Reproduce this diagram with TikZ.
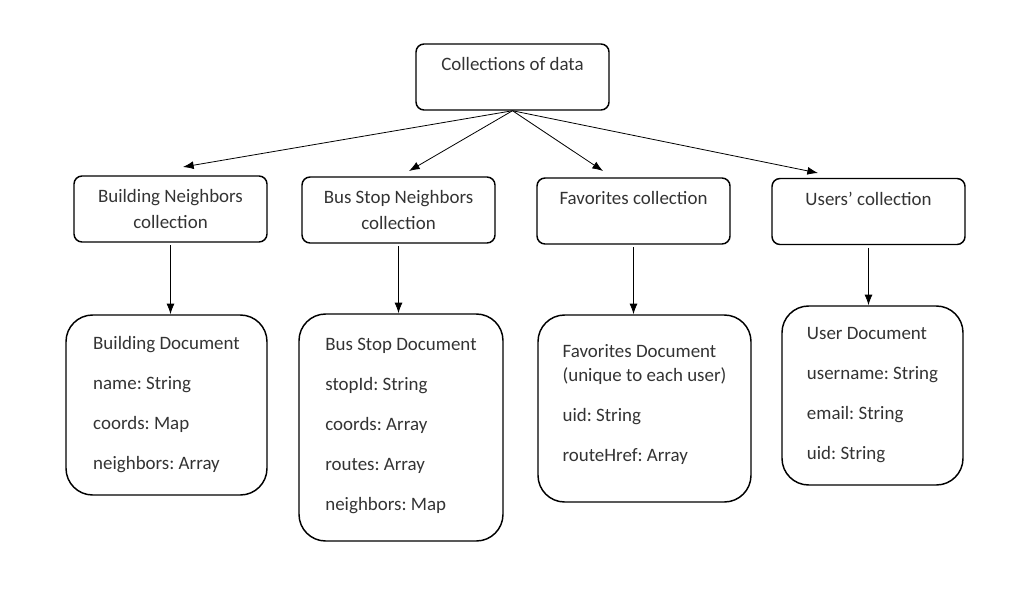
\documentclass[tikz,border=0pt]{standalone}
\usepackage{fontspec}
\setmainfont{Carlito}
\usetikzlibrary{arrows.meta}
\frenchspacing

\begin{document}
\begin{tikzpicture}[x=0.75pt,y=-0.75pt,
  every node/.style={font=\fontsize{14.2}{18}\selectfont, text=black!80},
  coll/.style={draw, line width=1.1pt, rounded corners=6pt, minimum width=144.75pt, minimum height=49.5pt, align=center, inner sep=0pt},
  doc/.style={draw, line width=1.1pt, rounded corners=20pt, inner sep=0pt, align=left},
  link/.style={-{Latex[length=8pt,width=6pt]}, line width=0.6pt}]
\useasboundingbox (0,0) rectangle (1036,596);
% collections
\node[coll] (top) at (512.5,77) {Collections of data\\[1.5pt]~};
\node[coll] (bn) at (170.5,209) {Building Neighbors\\[1.5pt]collection};
\node[coll] (bsn) at (398.5,210) {Bus Stop Neighbors\\[1.5pt]collection};
\node[coll] (fav) at (633.5,211) {Favorites collection\\[1.5pt]~};
\node[coll] (usr) at (868.5,211.5) {Users’ collection\\[1.5pt]~};
% documents
\node[doc, minimum width=150.75pt, minimum height=135pt] (bdoc) at (166.5,405) {Building Document\\[12pt]name: String\\[12pt]coords: Map\\[12pt]neighbors: Array};
\node[doc, minimum width=153pt, minimum height=170.25pt] (bsdoc) at (401,427.5) {Bus Stop Document\\[12pt]stopId: String\\[12pt]coords: Array\\[12pt]routes: Array\\[12pt]neighbors: Map\\[-12.75pt]~};
\node[doc, minimum width=159.75pt, minimum height=140.25pt] (favdoc) at (644.5,408.5) {Favorites Document\\(unique to each user)\\[12pt]uid: String\\[12pt]routeHref: Array\\[-9pt]~};
\node[doc, minimum width=135.75pt, minimum height=134.25pt] (udoc) at (872.5,395.5) {User Document\\[12pt]username: String\\[12pt]email: String\\[12pt]uid: String};
% arrow ends
\coordinate (bn-in) at (183,167);
\coordinate (bsn-in) at (409,171);
\coordinate (fav-in) at (603,171);
\coordinate (usr-in) at (818,173);
\draw[link] (top.south) -- (bn-in);
\draw[link] (top.south) -- (bsn-in);
\draw[link] (top.south) -- (fav-in);
\draw[link] (top.south) -- (usr-in);
\draw[link, shorten <=2pt] (bn) -- (bn |- bdoc.north);
\draw[link, shorten <=2pt] (bsn) -- (bsn |- bsdoc.north);
\draw[link, shorten <=2pt] (fav) -- (fav |- favdoc.north);
\draw[link, shorten <=2pt] (usr) -- (usr |- udoc.north);
\end{tikzpicture}
\end{document}
